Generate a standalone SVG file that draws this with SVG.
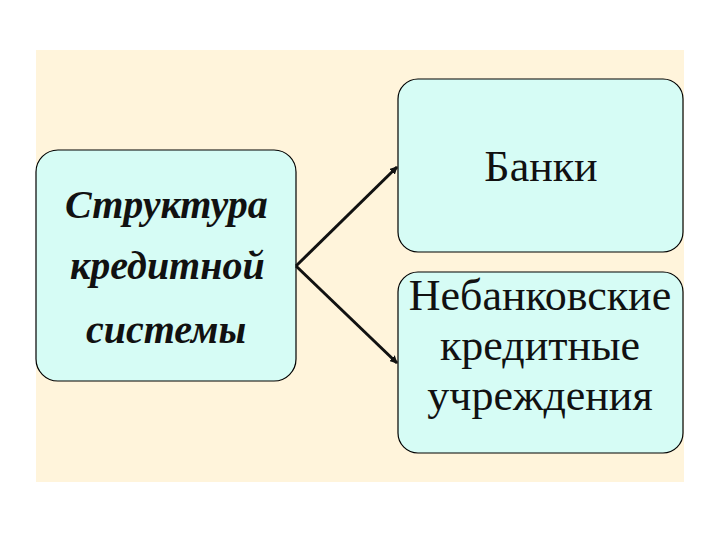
<svg xmlns="http://www.w3.org/2000/svg" width="720" height="540" viewBox="0 0 720 540">
<defs>
<style>
.box{fill:#D6FCF5;stroke:#000;stroke-width:1.2}
.t1{font-family:'Liberation Serif','Times New Roman',serif;font-weight:bold;font-style:italic;font-size:40px;fill:#111}
.t2{font-family:'Liberation Serif','Times New Roman',serif;font-weight:normal;font-style:normal;font-size:44px;fill:#111;text-anchor:middle}
.conn{stroke:#111;stroke-width:3;fill:none}
</style>
<marker id="ah" markerWidth="8" markerHeight="8" refX="7" refY="4" orient="auto" markerUnits="userSpaceOnUse" viewBox="0 0 8 8">
<path d="M0,0 L8,4 L0,8 Z" fill="#111"/>
</marker>
</defs>
<rect x="0" y="0" width="720" height="540" fill="#fff"/>
<rect x="36" y="50" width="648" height="432" fill="#FFF4DB"/>
<g id="node-structure">
<rect class="box" x="36" y="150" width="260" height="231" rx="22"/>
<text class="t1" x="65" y="218">Структура</text>
<text class="t1" x="70" y="279">кредитной</text>
<text class="t1" x="86" y="343">системы</text>
</g>
<g id="node-banks">
<rect class="box" x="398" y="79" width="285" height="173" rx="20"/>
<text class="t2" x="541" y="181">Банки</text>
</g>
<g id="node-nonbank">
<rect class="box" x="398" y="272" width="285" height="181" rx="20"/>
<text class="t2" x="540" y="310">Небанковские</text>
<text class="t2" x="540" y="360">кредитные</text>
<text class="t2" x="540" y="410">учреждения</text>
</g>
<g id="connectors">
<line class="conn" x1="296" y1="266" x2="397" y2="167" marker-end="url(#ah)"/>
<line class="conn" x1="296" y1="266" x2="397" y2="363" marker-end="url(#ah)"/>
</g>
</svg>
